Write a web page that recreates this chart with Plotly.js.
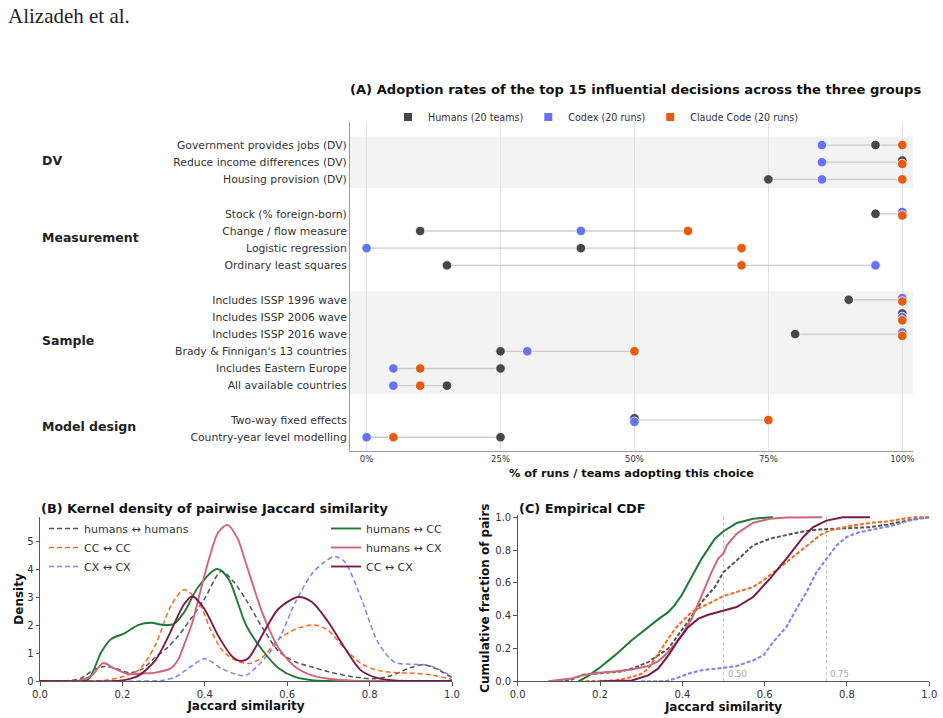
<!DOCTYPE html>
<html><head><meta charset="utf-8">
<script src="https://cdn.plot.ly/plotly-3.0.1.min.js"></script>
<style>html,body{margin:0;padding:0;background:#fff}#chart{width:943px;height:718px}</style>
</head><body><div id="chart"></div>
<script>
// ---------- Panel A data ----------
const groupNames = ['DV', 'Measurement', 'Sample', 'Model design'];
const groupSizes = [3, 4, 6, 2];
const decisions = [
  'Government provides jobs (DV)', 'Reduce income differences (DV)', 'Housing provision (DV)',
  'Stock (% foreign-born)', 'Change / flow measure', 'Logistic regression', 'Ordinary least squares',
  'Includes ISSP 1996 wave', 'Includes ISSP 2006 wave', 'Includes ISSP 2016 wave',
  "Brady & Finnigan's 13 countries", 'Includes Eastern Europe', 'All available countries',
  'Two-way fixed effects', 'Country-year level modelling'
];
const humans = [95, 100, 75, 95, 10, 40, 15, 90, 100, 80, 25, 25, 15, 50, 25];
const codex  = [85, 85, 85, 100, 40, 0, 95, 100, 100, 100, 30, 5, 5, 50, 0];
const claude = [100, 100, 100, 100, 60, 70, 70, 100, 100, 100, 50, 10, 10, 75, 5];
const seriesNames = ['Humans (20 teams)', 'Codex (20 runs)', 'Claude Code (20 runs)'];
const xTickVals = [0, 25, 50, 75, 100];
const xTickText = ['0%', '25%', '50%', '75%', '100%'];

// ---------- Panel B data (KDE) ----------
const hhX = [0, 0.06, 0.1, 0.13, 0.157, 0.185, 0.214, 0.245, 0.28, 0.31, 0.335, 0.37, 0.4, 0.44, 0.47, 0.5, 0.54, 0.58, 0.62, 0.66, 0.7, 0.76, 0.81, 0.85, 0.9, 0.93, 0.96, 1.0];
const hhY = [0, 0, 0.1, 0.4, 0.52, 0.45, 0.3, 0.4, 0.85, 1.2, 1.6, 2.3, 2.95, 3.92, 3.55, 2.9, 1.9, 1.05, 0.68, 0.5, 0.33, 0.15, 0.08, 0.18, 0.48, 0.58, 0.45, 0.12];
const ccX = [0, 0.12, 0.16, 0.2, 0.24, 0.28, 0.3, 0.32, 0.35, 0.385, 0.415, 0.445, 0.48, 0.51, 0.54, 0.58, 0.62, 0.665, 0.7, 0.74, 0.78, 0.82, 0.86, 0.9, 0.95, 1.0];
const ccY = [0, 0, 0.03, 0.15, 0.4, 1.27, 2.05, 2.75, 3.26, 2.82, 1.8, 1.05, 0.7, 0.63, 0.85, 1.5, 1.85, 2.0, 1.8, 1.15, 0.62, 0.38, 0.3, 0.28, 0.22, 0.05];
const xxX = [0, 0.26, 0.3, 0.33, 0.36, 0.4, 0.44, 0.48, 0.5, 0.545, 0.58, 0.62, 0.66, 0.69, 0.716, 0.74, 0.78, 0.82, 0.86, 0.9, 0.94, 0.97, 1.0];
const xxY = [0, 0, 0.03, 0.15, 0.45, 0.8, 0.45, 0.22, 0.2, 0.8, 1.5, 2.82, 3.83, 4.25, 4.45, 4.25, 2.94, 1.39, 0.68, 0.6, 0.57, 0.4, 0.15];
const hcX = [0, 0.09, 0.117, 0.149, 0.173, 0.205, 0.238, 0.27, 0.3, 0.325, 0.35, 0.384, 0.43, 0.458, 0.48, 0.5, 0.54, 0.58, 0.62, 0.66, 0.7, 1.0];
const hcY = [0, 0, 0.05, 1.04, 1.5, 1.7, 2.0, 2.08, 2.0, 2.04, 2.46, 3.36, 4.0, 3.64, 2.8, 2.0, 1.1, 0.45, 0.14, 0.03, 0, 0];
const hxX = [0, 0.09, 0.126, 0.153, 0.18, 0.214, 0.25, 0.28, 0.317, 0.335, 0.35, 0.37, 0.39, 0.41, 0.432, 0.455, 0.48, 0.5, 0.539, 0.563, 0.58, 0.62, 0.66, 0.7, 0.76, 1.0];
const hxY = [0, 0, 0.2, 0.64, 0.45, 0.25, 0.27, 0.3, 0.45, 0.75, 1.3, 2.1, 3.25, 4.35, 5.3, 5.58, 5.08, 4.2, 2.46, 1.63, 1.15, 0.5, 0.2, 0.08, 0.01, 0];
const cxX = [0, 0.18, 0.21, 0.24, 0.279, 0.3, 0.317, 0.35, 0.37, 0.398, 0.432, 0.465, 0.485, 0.505, 0.539, 0.579, 0.627, 0.66, 0.7, 0.741, 0.779, 0.82, 0.86, 1.0];
const cxY = [0, 0, 0.05, 0.2, 0.72, 1.25, 1.76, 2.75, 3.03, 2.6, 1.63, 0.9, 0.72, 0.8, 1.63, 2.58, 3.0, 2.82, 2.1, 1.15, 0.38, 0.1, 0.02, 0];

// ---------- Panel C data (ECDF) ----------
const hhCdfX = [0.1, 0.13, 0.16, 0.2, 0.25, 0.28, 0.317, 0.341, 0.366, 0.398, 0.423, 0.447, 0.479, 0.5, 0.532, 0.572, 0.613, 0.653, 0.694, 0.734, 0.815, 0.856, 0.896, 0.937, 0.977, 1.0];
const hhCdfY = [0, 0.01, 0.04, 0.05, 0.06, 0.08, 0.117, 0.158, 0.2, 0.31, 0.40, 0.483, 0.575, 0.666, 0.737, 0.829, 0.87, 0.894, 0.914, 0.926, 0.934, 0.94, 0.955, 0.975, 0.995, 1.0];
const ccCdfX = [0.15, 0.236, 0.277, 0.301, 0.317, 0.333, 0.35, 0.366, 0.382, 0.398, 0.423, 0.447, 0.479, 0.5, 0.532, 0.572, 0.597, 0.621, 0.653, 0.694, 0.734, 0.758, 0.815, 0.856, 0.896, 0.937, 0.961, 1.0];
const ccCdfY = [0, 0.005, 0.026, 0.046, 0.077, 0.138, 0.2, 0.26, 0.32, 0.362, 0.423, 0.453, 0.494, 0.52, 0.544, 0.575, 0.616, 0.666, 0.727, 0.809, 0.89, 0.92, 0.951, 0.965, 0.975, 0.991, 1.0, 1.0];
const xxCdfX = [0.3, 0.358, 0.382, 0.414, 0.447, 0.479, 0.5, 0.532, 0.572, 0.597, 0.621, 0.653, 0.678, 0.702, 0.726, 0.75, 0.775, 0.799, 0.831, 0.872, 0.912, 0.953, 0.993, 1.0];
const xxCdfY = [0, 0, 0.016, 0.046, 0.067, 0.077, 0.08, 0.093, 0.128, 0.158, 0.24, 0.332, 0.444, 0.545, 0.666, 0.748, 0.829, 0.88, 0.91, 0.93, 0.951, 0.981, 1.0, 1.0];
const hcCdfX = [0.147, 0.17, 0.196, 0.236, 0.277, 0.317, 0.345, 0.365, 0.38, 0.398, 0.423, 0.447, 0.479, 0.5, 0.532, 0.572, 0.613, 0.62];
const hcCdfY = [0, 0.03, 0.077, 0.158, 0.25, 0.332, 0.385, 0.42, 0.46, 0.524, 0.636, 0.748, 0.87, 0.915, 0.965, 0.991, 1.0, 1.0];
const hxCdfX = [0.074, 0.131, 0.155, 0.196, 0.236, 0.277, 0.317, 0.34, 0.358, 0.38, 0.398, 0.423, 0.447, 0.471, 0.487, 0.5, 0.508, 0.532, 0.572, 0.613, 0.653, 0.739];
const hxCdfY = [0, 0.017, 0.036, 0.052, 0.06, 0.072, 0.093, 0.12, 0.158, 0.22, 0.28, 0.382, 0.524, 0.666, 0.748, 0.78, 0.829, 0.90, 0.967, 0.991, 0.999, 1.0];
const cxCdfX = [0.2, 0.277, 0.317, 0.341, 0.366, 0.39, 0.414, 0.439, 0.463, 0.5, 0.532, 0.572, 0.613, 0.653, 0.694, 0.718, 0.75, 0.79, 0.856];
const cxCdfY = [0, 0.005, 0.036, 0.077, 0.158, 0.25, 0.33, 0.382, 0.406, 0.43, 0.453, 0.514, 0.626, 0.748, 0.88, 0.94, 0.98, 1.0, 1.0];
const refLines = [0.5, 0.75];
const refLabels = ['0.50', '0.75'];

// ---------- styling ----------
const FONT = 'DejaVu Sans, Verdana, sans-serif';
const colA = ['#474747', '#6673f4', '#e85a0e'];
const C = {hh: '#555555', cc: '#f26b21', xx: '#7784f6', hc: '#1f7a33', hx: '#cf6578', cx: '#7b1b49'};
const W = 943, H = 718;
const px = v => v / W, py = v => 1 - v / H;

// row positions (gap of one row between groups)
const pos = [];
const groupCenters = [];
let p = 0;
groupSizes.forEach((n, g) => {
  const start = p;
  for (let i = 0; i < n; i++) { pos.push(p); p++; }
  groupCenters.push((start + p - 1) / 2);
  p++;
});

// vertical nudge for tied values
const series = [humans, codex, claude];
const offsets = series.map(() => decisions.map(() => 0));
decisions.forEach((_, r) => {
  const vals = series.map(s => s[r]);
  const used = new Set();
  vals.forEach((v) => {
    if (used.has(v)) return;
    const idx = vals.map((w, j) => w === v ? j : -1).filter(j => j >= 0);
    used.add(v);
    if (idx.length > 1) idx.forEach((j, k) => { offsets[j][r] = (k - (idx.length - 1) / 2) * 0.2; });
  });
});

const traces = [];
// connectors
const cx_ = [], cy_ = [];
decisions.forEach((_, r) => {
  const vals = series.map(s => s[r]);
  cx_.push(Math.min(...vals), Math.max(...vals), null);
  cy_.push(pos[r], pos[r], null);
});
traces.push({x: cx_, y: cy_, mode: 'lines', line: {color: '#cccccc', width: 1.3}, showlegend: false, hoverinfo: 'skip', xaxis: 'x', yaxis: 'y'});
series.forEach((s, i) => {
  traces.push({x: s, y: pos.map((v, r) => v + offsets[i][r]), mode: 'markers', name: seriesNames[i],
    marker: {color: colA[i], size: 9.5, line: {color: '#ffffff', width: 0.8}}, showlegend: false, xaxis: 'x', yaxis: 'y'});
});
series.forEach((s, i) => {
  traces.push({x: [null], y: [null], mode: 'markers', name: seriesNames[i], legend: 'legend',
    marker: {color: colA[i], size: 8, symbol: 'square'}, xaxis: 'x', yaxis: 'y'});
});

// Panel B
const kde = [
  {x: hhX, y: hhY, n: 'humans ↔ humans', c: C.hh, d: 'dash', lg: 'legend2'},
  {x: ccX, y: ccY, n: 'CC ↔ CC', c: C.cc, d: 'dash', lg: 'legend2'},
  {x: xxX, y: xxY, n: 'CX ↔ CX', c: C.xx, d: 'dash', lg: 'legend2'},
  {x: hcX, y: hcY, n: 'humans ↔ CC', c: C.hc, d: 'solid', lg: 'legend3'},
  {x: hxX, y: hxY, n: 'humans ↔ CX', c: C.hx, d: 'solid', lg: 'legend3'},
  {x: cxX, y: cxY, n: 'CC ↔ CX', c: C.cx, d: 'solid', lg: 'legend3'}
];
kde.forEach(k => {
  traces.push({x: k.x, y: k.y, mode: 'lines', name: k.n, legend: k.lg, xaxis: 'x2', yaxis: 'y2',
    line: {color: k.c, width: k.d === 'dash' ? 1.5 : 1.9, dash: k.d === 'dash' ? '5px,3px' : 'solid', shape: 'spline', smoothing: 0.8}});
});
// Panel C
const cdf = [
  {x: hhCdfX, y: hhCdfY, c: C.hh, d: 'dash'},
  {x: ccCdfX, y: ccCdfY, c: C.cc, d: 'dash'},
  {x: xxCdfX, y: xxCdfY, c: C.xx, d: 'dash'},
  {x: hcCdfX, y: hcCdfY, c: C.hc, d: 'solid'},
  {x: hxCdfX, y: hxCdfY, c: C.hx, d: 'solid'},
  {x: cxCdfX, y: cxCdfY, c: C.cx, d: 'solid'}
];
cdf.forEach(k => {
  traces.push({x: k.x, y: k.y, mode: 'lines', showlegend: false, xaxis: 'x3', yaxis: 'y3',
    line: {color: k.c, width: 2, dash: k.d === 'dash' ? '4px,2px' : 'solid', shape: 'linear'}});
});

const tickF = {family: FONT, size: 10, color: '#333'};
const titleF = (s) => ({family: FONT, size: s, color: '#111', weight: 'bold'});

const shapes = [
  {type: 'rect', xref: 'x domain', yref: 'y', x0: 0, x1: 1, y0: -0.5, y1: 2.5, fillcolor: '#f3f3f3', line: {width: 0}, layer: 'below'},
  {type: 'rect', xref: 'x domain', yref: 'y', x0: 0, x1: 1, y0: 8.5, y1: 14.5, fillcolor: '#f3f3f3', line: {width: 0}, layer: 'below'}
];
refLines.forEach(v => shapes.push({type: 'line', xref: 'x3', yref: 'y3 domain', x0: v, x1: v, y0: 0, y1: 1, line: {color: '#c4c4c4', width: 1, dash: 'dot'}, layer: 'below'}));

const annotations = [
  {text: 'Alizadeh et al.', xref: 'paper', yref: 'paper', x: px(6), y: py(16), xanchor: 'left', yanchor: 'middle', showarrow: false, font: {family: 'Liberation Serif, DejaVu Serif, serif', size: 21, color: '#222'}},
  {text: '(A) Adoption rates of the top 15 influential decisions across the three groups', xref: 'paper', yref: 'paper', x: px(635), y: py(89), xanchor: 'center', yanchor: 'middle', showarrow: false, font: titleF(13.1)},
  {text: '(B) Kernel density of pairwise Jaccard similarity', xref: 'paper', yref: 'paper', x: px(39), y: py(508), xanchor: 'left', yanchor: 'middle', showarrow: false, font: titleF(12.9)},
  {text: '(C) Empirical CDF', xref: 'paper', yref: 'paper', x: px(517), y: py(508), xanchor: 'left', yanchor: 'middle', showarrow: false, font: titleF(12.9)}
];
groupNames.forEach((g, i) => annotations.push({text: g, xref: 'paper', yref: 'y', x: px(40), y: groupCenters[i] - 0.1, xanchor: 'left', yanchor: 'middle', showarrow: false, font: {family: FONT, size: 12.5, color: '#222', weight: 'bold'}}));
refLines.forEach((v, i) => annotations.push({text: refLabels[i], xref: 'x3', yref: 'y3', x: v, y: 0.045, xanchor: 'left', yanchor: 'middle', xshift: 2, showarrow: false, font: {family: FONT, size: 8.5, color: '#aaaaaa'}}));

const layout = {
  width: W, height: H, margin: {l: 0, r: 0, t: 0, b: 0}, paper_bgcolor: '#fff', plot_bgcolor: 'rgba(0,0,0,0)',
  font: {family: FONT, color: '#333'},
  showlegend: true,
  xaxis: {domain: [px(350), px(913)], range: [-3.1, 102.0], tickvals: xTickVals, ticktext: xTickText, showgrid: true, gridcolor: '#e3e3e3', gridwidth: 1,
    zeroline: false, showline: true, linecolor: '#9a9a9a', ticks: '', tickfont: {family: FONT, size: 8.5, color: '#333'}, anchor: 'y',
    title: {text: '% of runs / teams adopting this choice', font: titleF(11.3), standoff: 5}},
  yaxis: {domain: [py(451), py(122)], range: [17.8, -1.34], tickvals: pos, ticktext: decisions, showgrid: false, zeroline: false,
    showline: true, linecolor: '#9a9a9a', ticks: '', tickfont: {family: FONT, size: 10.8, color: '#333'}, anchor: 'x'},
  xaxis2: {domain: [px(40), px(452)], range: [0, 1], dtick: 0.2, tickformat: '.1f', anchor: 'y2', showgrid: false, zeroline: false, showline: true, linecolor: '#555',
    ticks: 'outside', ticklen: 3.5, tickcolor: '#555', tickfont: tickF, title: {text: 'Jaccard similarity', font: titleF(12), standoff: 2}},
  yaxis2: {domain: [py(681), py(517)], range: [0, 5.86], dtick: 1, anchor: 'x2', showgrid: false, zeroline: false, showline: true, linecolor: '#555',
    ticks: 'outside', ticklen: 3.5, tickcolor: '#555', tickfont: tickF, title: {text: 'Density', font: titleF(12), standoff: 0}},
  xaxis3: {domain: [px(517.7), px(929.3)], range: [0, 1], dtick: 0.2, tickformat: '.1f', anchor: 'y3', showgrid: false, zeroline: false, showline: true, linecolor: '#555',
    ticks: 'outside', ticklen: 3.5, tickcolor: '#555', tickfont: tickF, title: {text: 'Jaccard similarity', font: titleF(12), standoff: 2}},
  yaxis3: {domain: [py(681.3), py(515)], range: [0, 1.014], dtick: 0.2, tickformat: '.1f', anchor: 'x3', showgrid: false, zeroline: false, showline: true, linecolor: '#555',
    ticks: 'outside', ticklen: 3.5, tickcolor: '#555', tickfont: tickF, title: {text: 'Cumulative fraction of pairs', font: titleF(12), standoff: 3}},
  legend: {orientation: 'h', x: px(388), y: py(117), xanchor: 'left', yanchor: 'middle', font: {family: FONT, size: 9.6, color: '#333'}, bgcolor: 'rgba(0,0,0,0)'},
  legend2: {x: px(44), y: py(514), xanchor: 'left', yanchor: 'top', font: {family: FONT, size: 11, color: '#333'}, bgcolor: 'rgba(0,0,0,0)', itemwidth: 30},
  legend3: {x: px(326), y: py(514), xanchor: 'left', yanchor: 'top', font: {family: FONT, size: 11, color: '#333'}, bgcolor: 'rgba(0,0,0,0)', itemwidth: 30},
  shapes: shapes, annotations: annotations
};
Plotly.newPlot('chart', traces, layout, {displayModeBar: false, staticPlot: true});
</script></body></html>
